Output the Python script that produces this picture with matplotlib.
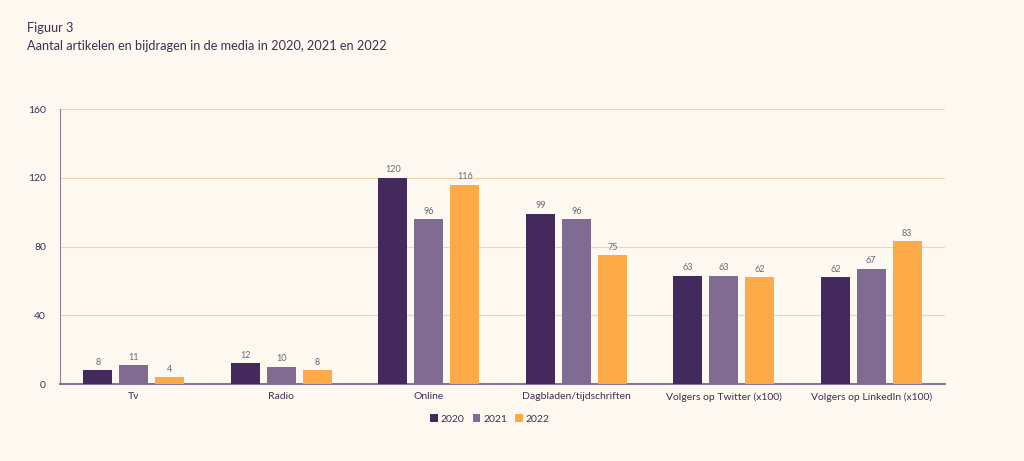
import numpy as np
import matplotlib.pyplot as plt

plt.rcParams['font.family'] = ['Lato', 'DejaVu Sans']

# Data
categories = ['Tv', 'Radio', 'Online', 'Dagbladen/tijdschriften',
              'Volgers op Twitter (x100)', 'Volgers op LinkedIn (x100)']
years = ['2020', '2021', '2022']
v2020 = [8, 12, 120, 99, 63, 62]
v2021 = [11, 10, 96, 96, 63, 67]
v2022 = [4, 8, 116, 75, 62, 83]
yticks = [0, 40, 80, 120, 160]

colors = ['#43295c', '#806b92', '#fdab48']
bg = '#fdf9f1'
text_col = '#3d2f50'

fig = plt.figure(figsize=(10.24, 4.61), dpi=100, facecolor=bg)
ax = fig.add_axes([60/1024, 1-384/461, 885/1024, 275/461], facecolor=bg)

x = np.arange(len(categories))
w = 0.197
off = 0.244
for i, (vals, yr) in enumerate(zip([v2020, v2021, v2022], years)):
    xs = x + (i-1)*off
    ax.bar(xs, vals, width=w, color=colors[i], label=yr, zorder=3)
    for xi, v in zip(xs, vals):
        ax.text(xi, v+2, str(v), ha='center', va='bottom', fontsize=6.5, color='#6e6478')

ax.set_xlim(-0.5, len(categories)-0.5)
ax.set_ylim(0, 160)
ax.set_yticks(yticks)
ax.set_xticks(x)
ax.set_xticklabels(categories)
ax.tick_params(axis='both', length=0, labelsize=7.5, labelcolor=text_col)
ax.tick_params(axis='y', pad=10)
ax.tick_params(axis='x', pad=6)
ax.grid(axis='y', color='#f1d6ad', linewidth=0.8, zorder=0)
for s in ['top', 'right']:
    ax.spines[s].set_visible(False)
ax.spines['left'].set_color('#8a7f96')
ax.spines['left'].set_linewidth(0.8)
ax.spines['bottom'].set_color('#6e5a86')
ax.spines['bottom'].set_linewidth(1.2)

leg = fig.legend(loc='center', bbox_to_anchor=(490/1024, 1-419/461), ncol=3,
                 frameon=False, fontsize=7.5, handlelength=0.7, handleheight=0.7,
                 handletextpad=0.3, columnspacing=0.8)
for t in leg.get_texts():
    t.set_color(text_col)

fig.text(27/1024, 1-28/461, 'Figuur 3', fontsize=9.2, color=text_col, va='center')
fig.text(27/1024, 1-46/461, 'Aantal artikelen en bijdragen in de media in 2020, 2021 en 2022',
         fontsize=9.2, color=text_col, va='center')

fig.savefig('out.png', dpi=100, facecolor=bg)
